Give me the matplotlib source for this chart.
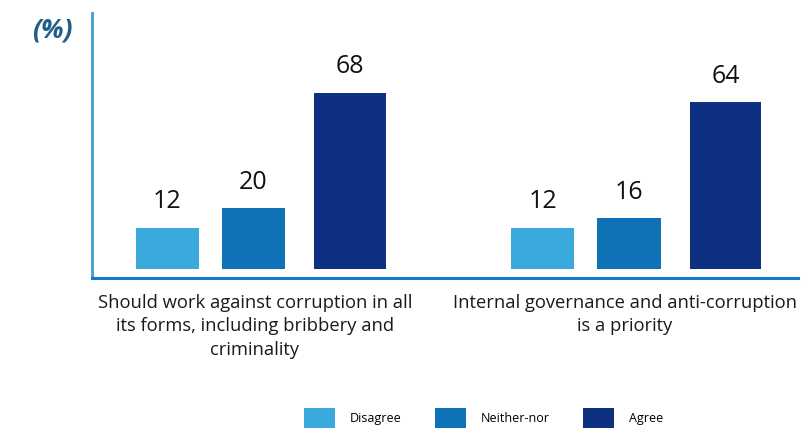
import matplotlib
matplotlib.use("Agg")
import matplotlib.pyplot as plt
from matplotlib.patches import Patch
import numpy as np

# Survey results
categories = [
    "Should work against corruption in all\nits forms, including bribbery and\ncriminality",
    "Internal governance and anti-corruption\nis a priority",
]
series_names = ["Disagree", "Neither-nor", "Agree"]
disagree = [12, 12]
neither_nor = [20, 16]
agree = [68, 64]

colors = ["#3aaadc", "#0d72b6", "#0d3080"]

plt.rcParams["font.family"] = ["Open Sans", "DejaVu Sans"]

fig = plt.figure(figsize=(8.02, 4.30), dpi=100)
ax = fig.add_axes([92 / 802, 1 - 278 / 430, 706 / 802, 265 / 430])

x = np.arange(len(categories))
offsets = [-0.25, -0.02, 0.237]
widths = [0.168, 0.168, 0.19]
base = -5  # bars are drawn floating a little above the axis line

for vals, off, w, c in zip([disagree, neither_nor, agree], offsets, widths, colors):
    vals = np.asarray(vals, dtype=float)
    ax.bar(x + off, vals - base, bottom=base, width=w, color=c, zorder=2)
    for xi, v in zip(x + off, vals):
        ax.text(xi, v + 5.5, f"{int(v)}", ha="center", va="bottom",
                fontsize=18, color="#111111")

ax.set_xlim(-0.45, 1.43)
ax.set_ylim(-8.9, 101)

for s in ["top", "right"]:
    ax.spines[s].set_visible(False)
ax.spines["left"].set_color("#4b97cf")
ax.spines["left"].set_linewidth(2)
ax.spines["bottom"].set_color("#1a78c2")
ax.spines["bottom"].set_linewidth(2.2)
ax.set_yticks([])
ax.set_xticks([])

label_x = [-0.016, 0.968]
for lx, lab in zip(label_x, categories):
    ax.text(lx, -0.06, lab, transform=ax.get_xaxis_transform(), ha="center",
            va="top", fontsize=13.2, color="#1a1a1a", linespacing=1.38)

fig.text(52 / 802, 1 - 30 / 430, "(%)", ha="center", va="center",
         fontsize=19, fontstyle="italic", fontweight="bold", color="#1d5f86")

handles = [Patch(facecolor=c, edgecolor="none", label=n) for c, n in zip(colors, series_names)]
fig.legend(handles=handles, loc="center", bbox_to_anchor=(0.603, 1 - 418 / 430),
           ncol=3, frameon=False, handlelength=2.45, handleheight=2.0,
           handletextpad=1.2, columnspacing=2.7, borderaxespad=0,
           prop={"family": ["Open Sans", "DejaVu Sans"], "size": 9})

fig.savefig("out.png", dpi=100)
